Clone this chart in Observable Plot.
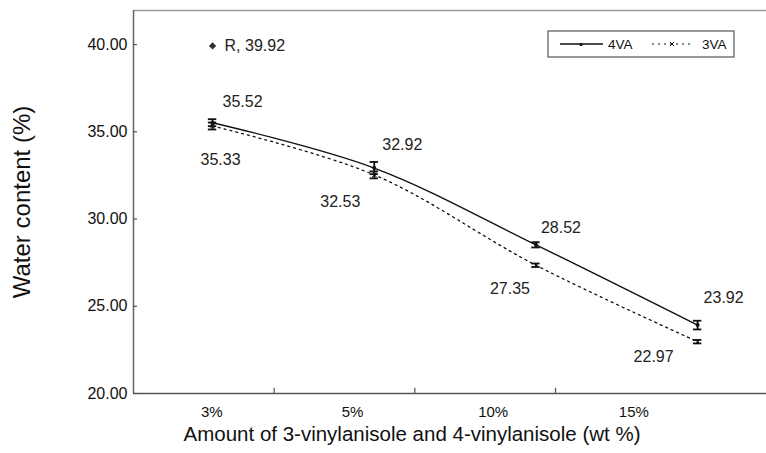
<!DOCTYPE html>
<html>
<head>
<meta charset="utf-8">
<script src="https://cdn.jsdelivr.net/npm/d3@7"></script>
<script src="https://cdn.jsdelivr.net/npm/@observablehq/plot@0.6"></script>
<style>
  body { margin: 0; background: #fff; }
  #chart svg { font-family: "Liberation Sans", Arial, sans-serif; }
</style>
</head>
<body>
<div id="chart"></div>
<script>
// ---- data ----
const categories = ["3%", "5%", "10%", "15%"];
const series4VA = [35.52, 32.92, 28.52, 23.92];
const series3VA = [35.33, 32.53, 27.35, 22.97];
const err4VA = [0.2, 0.35, 0.15, 0.25];
const err3VA = [0.2, 0.2, 0.1, 0.1];
const refName = "R";
const refValue = 39.92;
const yTicks = [20, 25, 30, 35, 40];

// ---- layout constants ----
const xMin = -0.489, xMax = 3.426;   // x domain (point index units)
const yMin = 20, yMax = 41.95;
const catWidth = 0.87;               // width of one category band
const capW = 0.026;
// pixel offsets of the value labels from their points
const off4 = [[30, -21], [28, -23], [25, -17], [26, -27]];
const off3 = [[8, 34], [-34, 27], [-26, 24], [-44, 15]];

const rows4 = series4VA.map((v, i) => ({x: i, y: v, e: err4VA[i]}));
const rows3 = series3VA.map((v, i) => ({x: i, y: v, e: err3VA[i]}));
const catRows = categories.map((c, i) => ({label: c, x: xMin + (i + 0.5) * catWidth}));
const catTicks = d3.range(1, categories.length).map(k => xMin + k * catWidth);

const errMarks = (rows) => [
  Plot.ruleX(rows, {x: "x", y1: d => d.y - d.e, y2: d => d.y + d.e, stroke: "#111", strokeWidth: 1.8}),
  Plot.ruleY(rows, {y: d => d.y - d.e, x1: d => d.x - capW, x2: d => d.x + capW, stroke: "#111", strokeWidth: 1.8}),
  Plot.ruleY(rows, {y: d => d.y + d.e, x1: d => d.x - capW, x2: d => d.x + capW, stroke: "#111", strokeWidth: 1.8})
];
const labelMarks = (rows, offs) => rows.map((d, i) =>
  Plot.text([d], {x: "x", y: "y", text: d => d.y.toFixed(2), dx: offs[i][0], dy: offs[i][1], fontSize: 16, fill: "#222"}));

const plot = Plot.plot({
  width: 766,
  height: 453,
  marginLeft: 133,
  marginTop: 10,
  marginBottom: 60,
  marginRight: 0,
  style: {fontFamily: "Liberation Sans, Arial, sans-serif", overflow: "visible"},
  x: {domain: [xMin, xMax], axis: null},
  y: {domain: [yMin, yMax], axis: null},
  marks: [
    // frame
    Plot.ruleY([yMax], {stroke: "#9a9a9a", strokeWidth: 1.5}),
    Plot.ruleX([xMin], {stroke: "#666", strokeWidth: 1.5}),
    Plot.ruleY([yMin], {stroke: "#555", strokeWidth: 1.5}),
    // y ticks and labels
    Plot.ruleY(yTicks, {x1: xMin, x2: xMin + 0.025, stroke: "#555", strokeWidth: 1.2}),
    Plot.text(yTicks, {x: xMin, y: d => d, text: d => d.toFixed(2), textAnchor: "end", dx: -6, fontSize: 16, fill: "#111"}),
    // x category ticks and labels
    Plot.ruleX(catTicks, {y1: yMin, y2: yMin + 0.3, stroke: "#555", strokeWidth: 1.2}),
    Plot.text(catRows, {x: "x", y: yMin, text: "label", dx: 8, dy: 19, fontSize: 15, fill: "#111"}),
    // axis titles
    Plot.text(["Amount of 3-vinylanisole and 4-vinylanisole (wt %)"], {frameAnchor: "bottom", dx: -38, dy: 47, fontSize: 20.5, fill: "#111"}),
    Plot.text(["Water content (%)"], {frameAnchor: "left", textAnchor: "middle", dx: -111, rotate: -90, fontSize: 24, fill: "#111"}),
    // lines
    Plot.line(rows3, {x: "x", y: "y", curve: "catmull-rom", stroke: "#111", strokeWidth: 1.3, strokeDasharray: "2,4"}),
    Plot.line(rows4, {x: "x", y: "y", curve: "catmull-rom", stroke: "#111", strokeWidth: 1.4}),
    // error bars
    ...errMarks(rows4),
    ...errMarks(rows3),
    // markers
    Plot.dot(rows4, {x: "x", y: "y", r: 2, fill: "#111"}),
    Plot.dot(rows3, {x: "x", y: "y", r: 2.2, symbol: "times", stroke: "#111", strokeWidth: 1}),
    // value labels
    ...labelMarks(rows4, off4),
    ...labelMarks(rows3, off3),
    // reference point
    Plot.dot([refValue], {x: 0, y: d => d, symbol: "diamond2", r: 3.3, fill: "#333"}),
    Plot.text([refValue], {x: 0, y: d => d, text: d => `${refName}, ${d.toFixed(2)}`, textAnchor: "start", dx: 12, fontSize: 16, fill: "#222"})
  ]
});

// legend inside the plot area
const svg = d3.select(plot);
const lg = svg.append("g").attr("font-family", "Liberation Sans, Arial, sans-serif").attr("text-anchor", "start");
lg.append("rect").attr("x", 548).attr("y", 31).attr("width", 186).attr("height", 26)
  .attr("fill", "#fff").attr("stroke", "#555").attr("stroke-width", 1.2);
lg.append("line").attr("x1", 560).attr("x2", 603).attr("y1", 44).attr("y2", 44)
  .attr("stroke", "#111").attr("stroke-width", 1.4);
lg.append("circle").attr("cx", 581).attr("cy", 44.5).attr("r", 1.6).attr("fill", "#111");
lg.append("text").attr("x", 608).attr("y", 44).attr("dy", "0.35em").attr("font-size", 13.5).attr("fill", "#111").text("4VA");
lg.append("line").attr("x1", 652).attr("x2", 692).attr("y1", 44).attr("y2", 44)
  .attr("stroke", "#111").attr("stroke-width", 1.2).attr("stroke-dasharray", "2,4");
lg.append("path").attr("d", "M670,42L674,46M674,42L670,46").attr("stroke", "#111").attr("stroke-width", 1);
lg.append("text").attr("x", 702).attr("y", 44).attr("dy", "0.35em").attr("font-size", 13.5).attr("fill", "#111").text("3VA");

document.getElementById("chart").append(plot);
</script>
</body>
</html>
